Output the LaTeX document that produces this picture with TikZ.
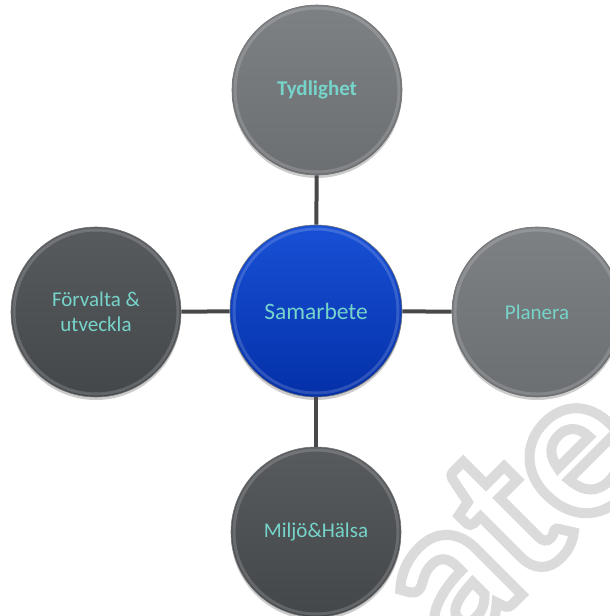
\documentclass[tikz,border=0pt]{standalone}
\usepackage{fontspec}
\setmainfont{Carlito}
\usetikzlibrary{shadows}
\definecolor{lbltxt}{RGB}{118,212,202}
\definecolor{lgtop}{RGB}{126,129,132}
\definecolor{lgbot}{RGB}{108,111,114}
\definecolor{dgtop}{RGB}{88,91,94}
\definecolor{dgbot}{RGB}{68,71,74}
\definecolor{bltop}{RGB}{24,80,214}
\definecolor{blbot}{RGB}{4,48,168}
\definecolor{connc}{RGB}{70,72,74}
\newcommand{\hollowtext}[1]{\special{pdf:literal direct 1 Tr 10 w 0.86 G}#1\special{pdf:literal direct 0 Tr 1 w 0 G}}
\tikzset{
  bubble/.style={circle, minimum size=170pt, inner sep=0pt, draw=black!55, line width=0.6pt,
    drop shadow={shadow xshift=0pt, shadow yshift=-3pt, opacity=0.4},
    text=lbltxt, font=\fontsize{21}{25}\selectfont, align=center,
    path picture={\draw[white, opacity=0.16, line width=3pt] (path picture bounding box.center) circle (82pt);}},
  lightbub/.style={bubble, top color=lgtop, bottom color=lgbot},
  darkbub/.style={bubble, top color=dgtop, bottom color=dgbot},
  bluebub/.style={bubble, top color=bltop, bottom color=blbot, minimum size=172pt, font=\fontsize{23.5}{27}\selectfont},
  conn/.style={draw=connc, line width=4pt},
  wmark/.style={rotate=45, text=black!15, font=\bfseries\fontsize{215}{215}\selectfont, inner sep=0pt}
}
\begin{document}
\begin{tikzpicture}[x=1pt,y=-1pt]
\useasboundingbox (0,0) rectangle (610,616);
\node[wmark] (wm) at (508,514) {\hollowtext{ate}};
\node[bluebub] (c) at (316,311) {Samarbete};
\node[lightbub] (t) at (317,90) {\bfseries Tydlighet};
\node[darkbub] (l) at (96,312) {Förvalta \&\\utveckla};
\node[lightbub] (r) at (537,312) {Planera};
\node[darkbub] (b) at (316,532) {Miljö\&Hälsa};
\draw[conn] (c) -- (t);
\draw[conn] (c) -- (l);
\draw[conn] (c) -- (r);
\draw[conn] (c) -- (b);
\end{tikzpicture}
\end{document}
